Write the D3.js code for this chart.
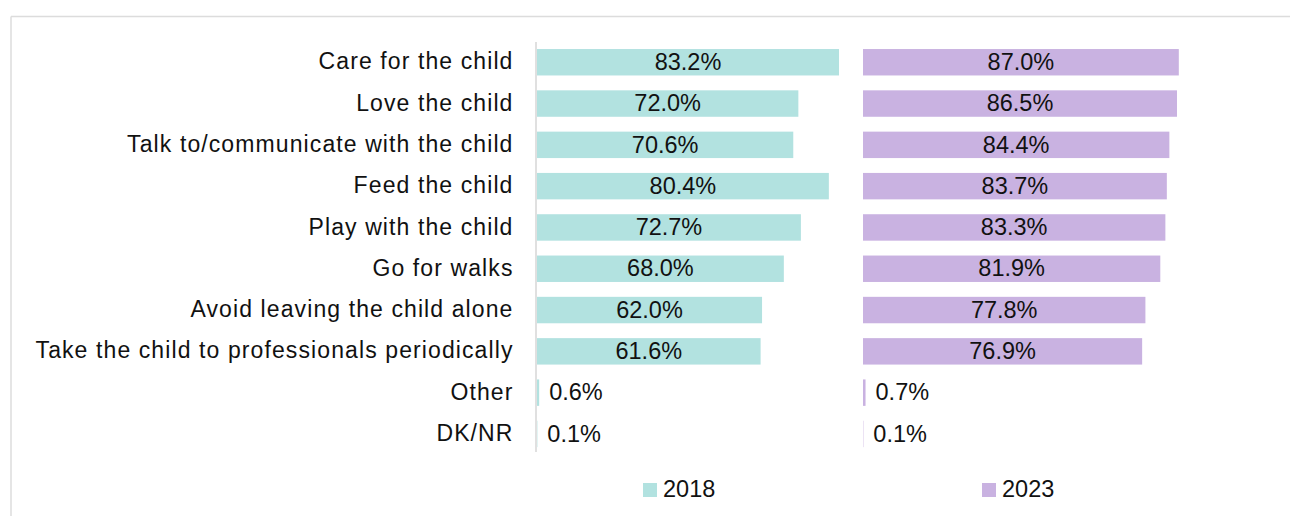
<!DOCTYPE html>
<html>
<head>
<meta charset="utf-8">
<script src="https://cdn.jsdelivr.net/npm/d3@7"></script>
<style>
  body { margin: 0; background: #fff; }
  svg { display: block; }
  .cat { font-family: "Liberation Sans", Arial, sans-serif; font-size: 23px; letter-spacing: 1.1px; fill: #111; }
  .val { font-family: "Liberation Sans", Arial, sans-serif; font-size: 23.5px; fill: #111; }
</style>
</head>
<body>
<svg width="1290" height="516"></svg>
<script>
var categories = [
  "Care for the child",
  "Love the child",
  "Talk to/communicate with the child",
  "Feed the child",
  "Play with the child",
  "Go for walks",
  "Avoid leaving the child alone",
  "Take the child to professionals periodically",
  "Other",
  "DK/NR"
];
var values2018 = [83.2, 72.0, 70.6, 80.4, 72.7, 68.0, 62.0, 61.6, 0.6, 0.1];
var values2023 = [87.0, 86.5, 84.4, 83.7, 83.3, 81.9, 77.8, 76.9, 0.7, 0.1];
var years = ["2018", "2023"];
var colors = ["#b2e2e0", "#c9b2e1"];

var svg = d3.select("svg");

// frame round the chart (open to the right and bottom)
svg.append("line")
    .attr("x1", 11).attr("x2", 1290).attr("y1", 16.5).attr("y2", 16.5)
    .attr("stroke", "#dcdcdc").attr("stroke-width", 1.5);
svg.append("line")
    .attr("x1", 11).attr("x2", 11).attr("y1", 16.5).attr("y2", 516)
    .attr("stroke", "#dcdcdc").attr("stroke-width", 1.5);

var y = d3.scaleBand()
    .domain(categories)
    .range([41.6, 454.6])
    .paddingInner(0.36)
    .paddingOuter(0.18);

var x = d3.scaleLinear().domain([0, 100]).range([0, 363]);

var panels = [
  {x0: 537, data: values2018, color: colors[0]},
  {x0: 863, data: values2023, color: colors[1]}
];

// category labels
svg.append("g").selectAll("text")
    .data(categories)
    .enter().append("text")
    .attr("class", "cat")
    .attr("x", 513.5)
    .attr("y", function(d) { return y(d) + y.bandwidth() / 2 + 1; })
    .attr("text-anchor", "end")
    .attr("dominant-baseline", "middle")
    .text(function(d) { return d; });

// axis line of first panel
svg.append("line")
    .attr("x1", 536).attr("x2", 536)
    .attr("y1", 42).attr("y2", 452)
    .attr("stroke", "#d6d6d6").attr("stroke-width", 1.5);

panels.forEach(function(p) {
  var g = svg.append("g").attr("transform", "translate(" + p.x0 + ",0)");
  var rows = p.data.map(function(v, i) { return {cat: categories[i], v: v}; });

  g.selectAll("rect")
      .data(rows)
      .enter().append("rect")
      .attr("x", 0)
      .attr("y", function(d) { return y(d.cat); })
      .attr("width", function(d) { return x(d.v); })
      .attr("height", y.bandwidth())
      .attr("fill", p.color);

  g.selectAll("text")
      .data(rows)
      .enter().append("text")
      .attr("class", "val")
      .attr("x", function(d) { return d.v > 10 ? x(d.v) / 2 : x(d.v) + 10; })
      .attr("y", function(d) { return y(d.cat) + y.bandwidth() / 2 + 1.5; })
      .attr("text-anchor", function(d) { return d.v > 10 ? "middle" : "start"; })
      .attr("dominant-baseline", "middle")
      .text(function(d) { return d.v.toFixed(1) + "%"; });
});

// legend
var legend = svg.append("g").selectAll("g")
    .data(years)
    .enter().append("g")
    .attr("transform", function(d, i) { return "translate(" + (i ? 982 : 643) + ",483)"; });

legend.append("rect")
    .attr("width", 14).attr("height", 14)
    .attr("fill", function(d, i) { return colors[i]; });

legend.append("text")
    .attr("class", "val")
    .attr("x", 20)
    .attr("y", 7.5)
    .attr("dominant-baseline", "middle")
    .text(function(d) { return d; });
</script>
</body>
</html>
